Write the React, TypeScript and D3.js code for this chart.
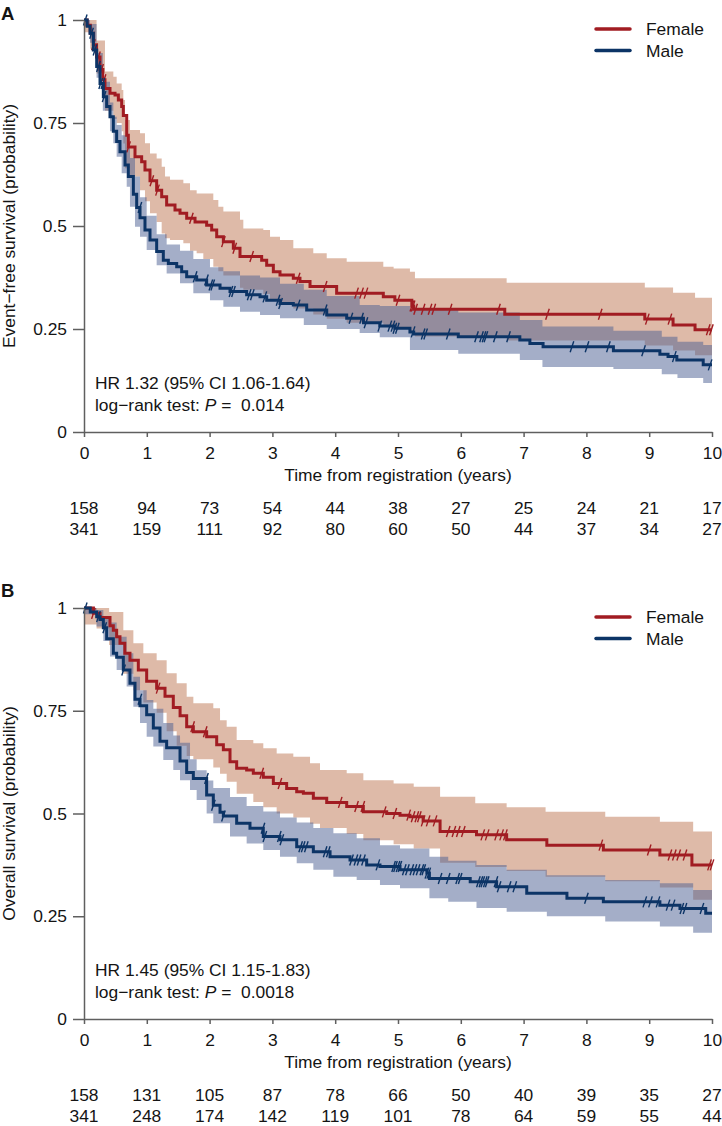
import * as d3 from 'd3'
import React, { useEffect, useRef } from 'react'

type Pt = [number, number]
type Band = [number, number, number]

const years = [0, 1, 2, 3, 4, 5, 6, 7, 8, 9, 10]
const yTicks = [0, 0.25, 0.5, 0.75, 1]
const groups = ['Female', 'Male']

// Event-free survival, Kaplan-Meier steps [years, probability]
const efsFemale: Pt[] = [
  [0, 1], [0.05, 0.987], [0.1, 0.968], [0.15, 0.94], [0.2, 0.91], [0.255, 0.88], [0.3, 0.855],
  [0.334, 0.834], [0.414, 0.822], [0.494, 0.818], [0.547, 0.806], [0.6, 0.79], [0.626, 0.768],
  [0.68, 0.72], [0.706, 0.692], [0.812, 0.668], [0.918, 0.656], [0.971, 0.636], [1.051, 0.61],
  [1.157, 0.587], [1.237, 0.571], [1.316, 0.551], [1.449, 0.539], [1.529, 0.531], [1.635, 0.519],
  [1.768, 0.51], [1.953, 0.502], [2.033, 0.49], [2.113, 0.474], [2.219, 0.462], [2.378, 0.446],
  [2.484, 0.426], [2.829, 0.417], [2.909, 0.405], [3.015, 0.389], [3.121, 0.381], [3.333, 0.373],
  [3.439, 0.365], [3.599, 0.353], [4.023, 0.337], [4.766, 0.328], [4.95, 0.32], [5.22, 0.306],
  [5.25, 0.298], [6.7, 0.286], [8.93, 0.274], [9.38, 0.26], [9.73, 0.248],
]
const efsMale: Pt[] = [
  [0, 1], [0.05, 0.985], [0.096, 0.968], [0.149, 0.927], [0.202, 0.887], [0.255, 0.846],
  [0.308, 0.814], [0.361, 0.79], [0.414, 0.765], [0.467, 0.73], [0.52, 0.705], [0.573, 0.68],
  [0.653, 0.648], [0.706, 0.62], [0.786, 0.577], [0.839, 0.545], [0.892, 0.52], [0.971, 0.49],
  [1.051, 0.466], [1.157, 0.438], [1.263, 0.417], [1.343, 0.409], [1.476, 0.401], [1.555, 0.389],
  [1.635, 0.377], [1.794, 0.369], [1.953, 0.357], [2.166, 0.349], [2.325, 0.341], [2.59, 0.333],
  [2.803, 0.328], [2.909, 0.32], [3.121, 0.312], [3.333, 0.308], [3.546, 0.296], [3.865, 0.284],
  [4.183, 0.276], [4.45, 0.265], [4.71, 0.257], [4.95, 0.252], [5.19, 0.243], [5.25, 0.238],
  [5.96, 0.231], [6.94, 0.223], [7.1, 0.215], [7.31, 0.207], [8.43, 0.197], [9.17, 0.189],
  [9.3, 0.183], [9.44, 0.175], [9.86, 0.163],
]
// 95% confidence bands [years, lower, upper]
const efsFemaleBand: Band[] = [
  [0, 0.97, 1], [0.1, 0.93, 1], [0.2, 0.87, 0.95], [0.334, 0.78, 0.875], [0.467, 0.76, 0.862],
  [0.52, 0.75, 0.846], [0.6, 0.73, 0.83], [0.626, 0.7, 0.806], [0.653, 0.64, 0.757],
  [0.732, 0.62, 0.733], [0.892, 0.587, 0.725], [0.971, 0.56, 0.701], [1.051, 0.531, 0.676],
  [1.157, 0.51, 0.664], [1.237, 0.482, 0.644], [1.29, 0.47, 0.62], [1.369, 0.466, 0.612],
  [1.582, 0.458, 0.604], [1.688, 0.44, 0.587], [1.794, 0.434, 0.579], [1.9, 0.42, 0.579],
  [2.059, 0.401, 0.563], [2.139, 0.39, 0.547], [2.219, 0.38, 0.535], [2.484, 0.35, 0.515],
  [2.537, 0.345, 0.494], [2.855, 0.335, 0.49], [2.962, 0.32, 0.474], [3.121, 0.31, 0.466],
  [3.333, 0.3, 0.446], [3.651, 0.285, 0.434], [3.865, 0.275, 0.422], [4.183, 0.265, 0.413],
  [4.766, 0.255, 0.401], [4.93, 0.25, 0.397], [5.19, 0.24, 0.389], [5.27, 0.232, 0.373],
  [6.73, 0.222, 0.362], [8.93, 0.21, 0.351], [9.38, 0.198, 0.338], [9.73, 0.186, 0.326],
]
const efsMaleBand: Band[] = [
  [0, 0.985, 1], [0.096, 0.945, 0.99], [0.2, 0.86, 0.92], [0.3, 0.78, 0.85], [0.414, 0.73, 0.8],
  [0.467, 0.701, 0.765], [0.52, 0.668, 0.745], [0.6, 0.628, 0.72], [0.68, 0.595, 0.69],
  [0.732, 0.547, 0.665], [0.812, 0.498, 0.62], [0.892, 0.474, 0.57], [0.998, 0.442, 0.525],
  [1.157, 0.405, 0.48], [1.316, 0.385, 0.455], [1.529, 0.361, 0.44], [1.741, 0.337, 0.42],
  [2.006, 0.32, 0.4], [2.219, 0.304, 0.39], [2.484, 0.292, 0.38], [2.803, 0.284, 0.375],
  [3.121, 0.276, 0.36], [3.5, 0.26, 0.345], [3.865, 0.25, 0.33], [4.39, 0.24, 0.308],
  [4.71, 0.23, 0.306], [5.19, 0.199, 0.298], [5.96, 0.19, 0.29], [6.94, 0.175, 0.272],
  [7.3, 0.158, 0.256], [8.43, 0.153, 0.246], [9.2, 0.14, 0.231], [9.45, 0.131, 0.219],
  [9.86, 0.119, 0.211],
]
const efsFemaleCensor = [
  0.15, 0.23, 0.28, 0.32, 0.71, 1.08, 1.17, 1.71, 2.22, 2.4, 2.67, 3.41, 3.84, 4.34, 4.42, 4.49,
  5.0, 5.22, 5.24, 5.28, 5.4, 5.51, 5.57, 5.83, 6.6, 7.38, 8.22, 8.97, 9.33, 9.94, 9.99,
]
const efsMaleCensor = [
  0.02, 0.12, 0.175, 0.23, 0.265, 0.3, 0.32, 0.89, 1.77, 1.95, 2.02, 2.05, 2.34, 2.38, 2.63, 2.68,
  2.88, 3.09, 3.13, 3.41, 3.84, 4.25, 4.42, 4.49, 4.71, 4.87, 4.92, 4.95, 4.99, 5.24, 5.4, 5.44,
  5.8, 6.25, 6.33, 6.37, 6.4, 6.55, 6.76, 7.77, 8.01, 8.35, 8.91, 9.4, 9.97,
]
const efsAtRiskFemale = [158, 94, 73, 54, 44, 38, 27, 25, 24, 21, 17]
const efsAtRiskMale = [341, 159, 111, 92, 80, 60, 50, 44, 37, 34, 27]

// Overall survival
const osFemale: Pt[] = [
  [0, 1], [0.15, 0.987], [0.255, 0.977], [0.414, 0.957], [0.467, 0.946], [0.52, 0.93],
  [0.573, 0.914], [0.65, 0.89], [0.732, 0.873], [0.865, 0.849], [0.998, 0.822], [1.157, 0.805],
  [1.29, 0.785], [1.422, 0.758], [1.53, 0.738], [1.635, 0.711], [1.741, 0.699], [1.953, 0.687],
  [2.113, 0.667], [2.219, 0.655], [2.325, 0.626], [2.431, 0.61], [2.59, 0.606], [2.696, 0.598],
  [2.855, 0.588], [3.015, 0.573], [3.227, 0.561], [3.387, 0.553], [3.493, 0.549], [3.652, 0.537],
  [3.865, 0.527], [4.183, 0.517], [4.448, 0.504], [4.82, 0.5], [5.032, 0.496], [5.19, 0.492],
  [5.4, 0.482], [5.67, 0.456], [6.25, 0.448], [6.73, 0.436], [7.37, 0.423], [8.27, 0.411],
  [9.17, 0.399], [9.68, 0.375],
]
const osMale: Pt[] = [
  [0, 1], [0.1, 0.99], [0.202, 0.979], [0.255, 0.972], [0.308, 0.952], [0.361, 0.925],
  [0.467, 0.89], [0.52, 0.88], [0.626, 0.849], [0.732, 0.817], [0.812, 0.778], [0.892, 0.762],
  [0.998, 0.74], [1.104, 0.708], [1.21, 0.676], [1.316, 0.66], [1.529, 0.628], [1.635, 0.6],
  [1.741, 0.585], [1.953, 0.545], [2.059, 0.52], [2.166, 0.503], [2.219, 0.494], [2.431, 0.476],
  [2.643, 0.464], [2.855, 0.444], [3.121, 0.436], [3.387, 0.419], [3.652, 0.407], [3.918, 0.395],
  [4.236, 0.387], [4.501, 0.375], [4.713, 0.371], [5.032, 0.363], [5.46, 0.355], [5.5, 0.342],
  [6.15, 0.334], [6.57, 0.322], [7.05, 0.306], [7.69, 0.294], [8.27, 0.285], [9.17, 0.277],
  [9.49, 0.269], [9.9, 0.257],
]
const osFemaleBand: Band[] = [
  [0, 0.96, 1], [0.2, 0.95, 1], [0.4, 0.91, 0.99], [0.626, 0.84, 0.946], [0.786, 0.8, 0.914],
  [0.945, 0.77, 0.89], [1.157, 0.745, 0.873], [1.316, 0.7, 0.841], [1.476, 0.665, 0.817],
  [1.635, 0.64, 0.784], [1.741, 0.632, 0.768], [2.059, 0.612, 0.756], [2.166, 0.597, 0.727],
  [2.272, 0.577, 0.711], [2.431, 0.548, 0.679], [2.696, 0.528, 0.671], [2.855, 0.515, 0.659],
  [3.068, 0.5, 0.646], [3.333, 0.49, 0.638], [3.599, 0.475, 0.622], [3.758, 0.465, 0.606],
  [4.183, 0.45, 0.598], [4.448, 0.435, 0.581], [4.93, 0.425, 0.573], [5.25, 0.415, 0.565],
  [5.67, 0.38, 0.541], [6.23, 0.37, 0.525], [6.73, 0.36, 0.515], [7.35, 0.346, 0.504],
  [8.3, 0.335, 0.492], [9.17, 0.32, 0.48], [9.7, 0.29, 0.456],
]
const osMaleBand: Band[] = [
  [0, 0.985, 1], [0.2, 0.955, 0.995], [0.308, 0.92, 0.98], [0.414, 0.882, 0.965],
  [0.52, 0.849, 0.93], [0.679, 0.809, 0.89], [0.786, 0.76, 0.833], [0.892, 0.72, 0.8],
  [0.998, 0.687, 0.776], [1.104, 0.663, 0.755], [1.263, 0.63, 0.72], [1.422, 0.606, 0.69],
  [1.529, 0.581, 0.672], [1.688, 0.557, 0.632], [1.794, 0.533, 0.605], [1.953, 0.5, 0.58],
  [2.059, 0.476, 0.562], [2.325, 0.444, 0.54], [2.59, 0.427, 0.518], [2.855, 0.411, 0.505],
  [3.121, 0.395, 0.49], [3.387, 0.379, 0.478], [3.652, 0.363, 0.465], [3.971, 0.346, 0.452],
  [4.342, 0.338, 0.44], [4.713, 0.326, 0.423], [5.032, 0.318, 0.415], [5.5, 0.294, 0.395],
  [5.8, 0.285, 0.385], [6.25, 0.27, 0.375], [6.73, 0.261, 0.363], [7.37, 0.25, 0.35],
  [8.3, 0.237, 0.338], [9.17, 0.225, 0.33], [9.7, 0.21, 0.314],
]
const osFemaleCensor = [
  0.15, 1.18, 1.73, 1.93, 2.83, 3.12, 4.08, 4.34, 4.44, 4.78, 4.95, 5.17, 5.24, 5.3, 5.34, 5.4,
  5.48, 5.59, 5.8, 5.89, 5.96, 6.04, 6.35, 6.42, 6.57, 6.65, 6.71, 8.23, 9.0, 9.33, 9.4, 9.47,
  9.57, 9.96, 10.0,
]
const osMaleCensor = [
  0.02, 0.23, 0.33, 0.63, 0.89, 1.95, 2.06, 2.22, 2.85, 2.88, 3.11, 3.15, 3.45, 3.49, 3.54, 3.84,
  3.89, 4.26, 4.33, 4.38, 4.45, 4.68, 4.93, 4.96, 5.0, 5.03, 5.1, 5.15, 5.22, 5.27, 5.32, 5.38,
  5.41, 5.46, 5.49, 5.67, 5.8, 5.95, 5.99, 6.28, 6.32, 6.35, 6.39, 6.42, 6.56, 6.61, 6.77, 6.86,
  8.0, 8.93, 9.02, 9.14, 9.3, 9.38, 9.52, 9.57, 9.84,
]
const osAtRiskFemale = [158, 131, 105, 87, 78, 66, 50, 40, 39, 35, 27]
const osAtRiskMale = [341, 248, 174, 142, 119, 101, 78, 64, 59, 55, 44]

const FONT = '"Liberation Sans", Arial, Helvetica, sans-serif'
const FS = 17.4
const TEXT = '#141414'
const AXIS = '#5f5f5f'
const LINE_COLORS = ['#a11c22', '#0c3466']
const BAND_COLORS = ['#bd7551', '#495d91']

const panels = [
  {
    letter: 'A', letterY: 20, top: 20, bottom: 432,
    title: 'Event\u2212free survival (probability)',
    curves: [efsFemale, efsMale], bands: [efsFemaleBand, efsMaleBand],
    censor: [efsFemaleCensor, efsMaleCensor], atRisk: [efsAtRiskFemale, efsAtRiskMale],
    hr: 'HR 1.32 (95% CI 1.06-1.64)', p: '0.014',
  },
  {
    letter: 'B', letterY: 597, top: 608, bottom: 1019,
    title: 'Overall survival (probability)',
    curves: [osFemale, osMale], bands: [osFemaleBand, osMaleBand],
    censor: [osFemaleCensor, osMaleCensor], atRisk: [osAtRiskFemale, osAtRiskMale],
    hr: 'HR 1.45 (95% CI 1.15-1.83)', p: '0.0018',
  },
]

// carry the last step out to the end of follow-up
function toEnd<T extends number[]>(rows: T[]): T[] {
  const last = rows[rows.length - 1]
  return [...rows, [10, ...last.slice(1)] as T]
}

function stepAt(rows: Pt[], t: number) {
  let v = rows[0][1]
  for (const r of rows) {
    if (r[0] <= t) v = r[1]
    else break
  }
  return v
}

function drawPanel(svg: any, x: d3.ScaleLinear<number, number>, p: typeof panels[number]) {
  const y = d3.scaleLinear().domain([0, 1]).range([p.bottom, p.top])
  const g = svg.append('g')

  const area = d3
    .area<Band>()
    .x(d => x(d[0]))
    .y0(d => y(d[1]))
    .y1(d => y(d[2]))
    .curve(d3.curveStepAfter)
  const line = d3
    .line<Pt>()
    .x(d => x(d[0]))
    .y(d => y(d[1]))
    .curve(d3.curveStepAfter)

  //confidence bands
  p.bands.forEach((b, i) => {
    g.append('path')
      .datum(toEnd(b))
      .attr('d', area)
      .attr('fill', BAND_COLORS[i])
      .attr('fill-opacity', 0.5)
  })

  //survival curves with censor ticks
  p.curves.forEach((c, i) => {
    g.append('path')
      .datum(toEnd(c))
      .attr('d', line)
      .attr('fill', 'none')
      .attr('stroke', LINE_COLORS[i])
      .attr('stroke-width', 3)

    g.append('g')
      .selectAll('line')
      .data(p.censor[i])
      .join('line')
      .attr('x1', (t: number) => x(t) - 1.8)
      .attr('x2', (t: number) => x(t) + 1.8)
      .attr('y1', (t: number) => y(stepAt(c, t)) + 5.5)
      .attr('y2', (t: number) => y(stepAt(c, t)) - 5.5)
      .attr('stroke', LINE_COLORS[i])
      .attr('stroke-width', 1.4)
  })

  //axes
  const yAxis = g
    .append('g')
    .attr('transform', `translate(${x(0)},0)`)
    .call(
      d3.axisLeft(y).tickValues(yTicks).tickFormat(d => String(d)).tickSize(11).tickSizeOuter(0).tickPadding(6)
    )
  const xAxis = g
    .append('g')
    .attr('transform', `translate(0,${y(0)})`)
    .call(
      d3.axisBottom(x).tickValues(years).tickFormat(d => String(d)).tickSize(5).tickSizeOuter(0).tickPadding(9.5)
    )
  for (const a of [yAxis, xAxis]) {
    a.attr('font-family', FONT).attr('font-size', FS)
    a.selectAll('path, line').attr('stroke', AXIS).attr('stroke-width', 1.5)
    a.selectAll('text').attr('fill', TEXT)
  }

  const label = (tx: number, ty: number, s: string, anchor = 'start') =>
    g.append('text')
      .attr('x', tx)
      .attr('y', ty)
      .attr('text-anchor', anchor)
      .attr('font-family', FONT)
      .attr('font-size', FS)
      .attr('fill', TEXT)
      .text(s)

  label(x(5), y(0) + 49, 'Time from registration (years)', 'middle')

  g.append('text')
    .attr('transform', `translate(15,${(p.top + p.bottom) / 2}) rotate(-90)`)
    .attr('text-anchor', 'middle')
    .attr('font-family', FONT)
    .attr('font-size', FS)
    .attr('fill', TEXT)
    .text(p.title)

  g.append('text')
    .attr('x', 1)
    .attr('y', p.letterY)
    .attr('font-family', FONT)
    .attr('font-size', 18.5)
    .attr('font-weight', 'bold')
    .attr('fill', TEXT)
    .text(p.letter)

  //numbers at risk
  p.atRisk.forEach((row, i) => {
    row.forEach((n, k) => label(x(years[k]), y(0) + 82 + i * 21, String(n), 'middle'))
  })

  //hazard ratio and log-rank test
  label(95, y(0) - 43, p.hr)
  const pt = label(95, y(0) - 21, '').style('white-space', 'pre')
  pt.append('tspan').text('log\u2212rank test: ')
  pt.append('tspan').attr('font-style', 'italic').text('P')
  pt.append('tspan').text(' =  ' + p.p)

  //legend
  groups.forEach((name, i) => {
    const ly = p.top + 9 + i * 21.5
    g.append('line')
      .attr('x1', 596)
      .attr('x2', 630)
      .attr('y1', ly)
      .attr('y2', ly)
      .attr('stroke', LINE_COLORS[i])
      .attr('stroke-width', 3.5)
      .attr('stroke-linecap', 'round')
    label(646, ly + 6, name)
  })
}

export default function App() {
  const sandbox = useRef<SVGSVGElement>(null)

  useEffect(() => {
    const svg = d3.select(sandbox.current)
    svg.selectAll('*').remove()
    const x = d3.scaleLinear().domain([0, 10]).range([84, 712])
    panels.forEach(p => drawPanel(svg, x, p))
  }, [sandbox])

  return (
    <svg
      ref={sandbox}
      width="722"
      height="1126"
      style={{ position: 'absolute', left: 0, top: 0, background: '#fff' }}
    />
  )
}
